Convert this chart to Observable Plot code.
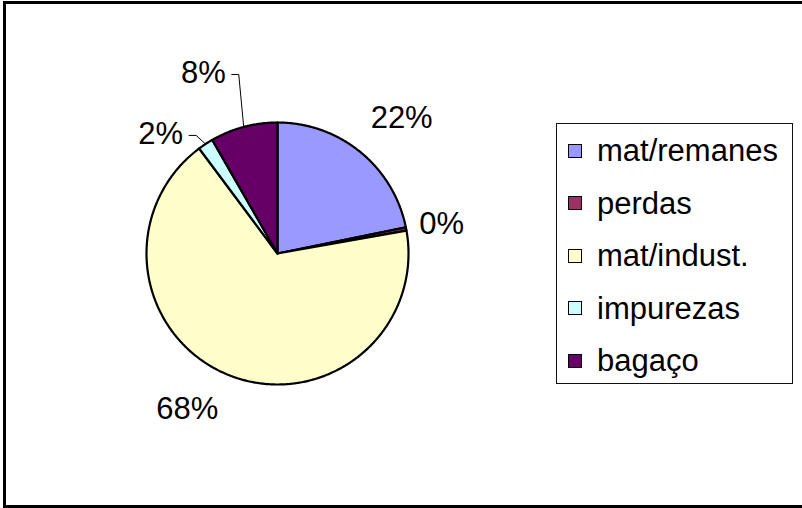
<!DOCTYPE html>
<html>
<head>
<meta charset="utf-8">
<script src="https://cdn.jsdelivr.net/npm/d3@7"></script>
<script src="https://cdn.jsdelivr.net/npm/@observablehq/plot@0.6"></script>
<style>
  html, body { margin: 0; padding: 0; background: #fff; }
  #wrap { position: relative; width: 802px; height: 508px; overflow: hidden; font-family: "Liberation Sans", Arial, sans-serif; }
  #frame { position: absolute; left: 3px; top: 1px; width: 820px; height: 501px; border: 3px solid #000; box-sizing: content-box; border-right: none; }
  #chart { position: absolute; left: 0; top: 0; }
  #legend { position: absolute; left: 556px; top: 123px; width: 237px; height: 261px; border: 1.5px solid #111; box-sizing: border-box; }
  .item { position: absolute; left: 0; height: 40px; }
  .sw { position: absolute; left: 11px; width: 12px; height: 12px; border: 1.5px solid #000; }
  .lab { position: absolute; left: 40px; font-size: 31px; line-height: 40px; white-space: nowrap; color: #000; }
</style>
</head>
<body>
<div id="wrap">
  <div id="chart"></div>
  <div id="frame"></div>
  <div id="legend"></div>
</div>
<script>
// ---- data ----
const categories = ["mat/remanes", "perdas", "mat/indust.", "impurezas", "bagaço"];
const values = [21.8, 0.4, 67.6, 1.9, 8.3];
const labels = ["22%", "0%", "68%", "2%", "8%"];
const colors = ["#9999FF", "#993366", "#FFFFCC", "#CCFFFF", "#660066"];

// ---- geometry from data ----
const total = d3.sum(values);
let acc = 0;
const slices = values.map((v, i) => {
  const a0 = acc / total * 2 * Math.PI;
  acc += v;
  const a1 = acc / total * 2 * Math.PI;
  return { name: categories[i], label: labels[i], a0, a1, mid: (a0 + a1) / 2 };
});

const polar = (a, r) => ({ x: r * Math.sin(a), y: r * Math.cos(a) });

const slicePts = [];
slices.forEach(s => {
  slicePts.push({ name: s.name, ...polar(0, 0) });
  const n = Math.max(2, Math.ceil((s.a1 - s.a0) / (Math.PI / 360)));
  for (let k = 0; k <= n; k++) {
    const a = s.a0 + (s.a1 - s.a0) * k / n;
    slicePts.push({ name: s.name, ...polar(a, 1) });
  }
  slicePts.push({ name: s.name, ...polar(0, 0) });
});

// label layout (radius factor, angle nudge in degrees, side, leader)
const layout = [
  { r: 1.254, da: -4.7, anchor: "start", leader: false },
  { r: 1.105, da: -0.8, anchor: "start", leader: false },
  { r: 1.27,  da: -0.8, anchor: "end",   leader: false },
  { r: 1.16,  da: -5.1, anchor: "end",   leader: true },
  { r: 1.43,  da: -1.1, anchor: "end",   leader: true }
];
const R = 131; // px per unit
const labelPts = slices.map((s, i) => {
  const L = layout[i];
  const p = polar(s.mid + L.da * Math.PI / 180, L.r);
  return { ...p, label: s.label, anchor: L.anchor, leader: L.leader, mid: s.mid };
});

const leaders = [];
labelPts.forEach((p, i) => {
  if (!p.leader) return;
  const edge = polar(p.mid, 1);
  leaders.push({ id: i, x: p.x + 6 / R, y: p.y - 1 / R });
  leaders.push({ id: i, x: p.x + 13 / R, y: p.y - 1 / R });
  leaders.push({ id: i, x: edge.x, y: edge.y });
});

const cx = 277, cy = 253;
const marks = [
  Plot.line(slicePts, { x: "x", y: "y", z: "name", fill: "name", stroke: "#000", strokeWidth: 2.2, strokeLinejoin: "round", curve: "linear" }),
  Plot.line(leaders, { x: "x", y: "y", z: "id", stroke: "#000", strokeWidth: 1 })
];
labelPts.forEach(p => {
  marks.push(Plot.text([p], { x: "x", y: "y", text: "label", textAnchor: p.anchor, lineAnchor: "middle", fontSize: 31, fontFamily: "Liberation Sans, Arial, sans-serif", fill: "#000" }));
});

const chart = Plot.plot({
  width: 802,
  height: 508,
  margin: 0,
  style: { background: "transparent", fontFamily: "Liberation Sans, Arial, sans-serif" },
  x: { domain: [-1, 1], range: [cx - R, cx + R], axis: null },
  y: { domain: [-1, 1], range: [cy + R, cy - R], axis: null },
  color: { domain: categories, range: colors },
  marks
});
document.getElementById("chart").appendChild(chart);

// legend
const legend = document.getElementById("legend");
const rowCenters = categories.map((_, i) => 27 + i * 52.5);
categories.forEach((c, i) => {
  const item = document.createElement("div");
  item.className = "item";
  item.style.top = (rowCenters[i] - 20) + "px";
  const sw = document.createElement("div");
  sw.className = "sw";
  sw.style.background = colors[i];
  sw.style.top = "12.5px";
  const lab = document.createElement("div");
  lab.className = "lab";
  lab.textContent = c;
  lab.style.top = "0px";
  item.appendChild(sw);
  item.appendChild(lab);
  legend.appendChild(item);
});
</script>
</body>
</html>
